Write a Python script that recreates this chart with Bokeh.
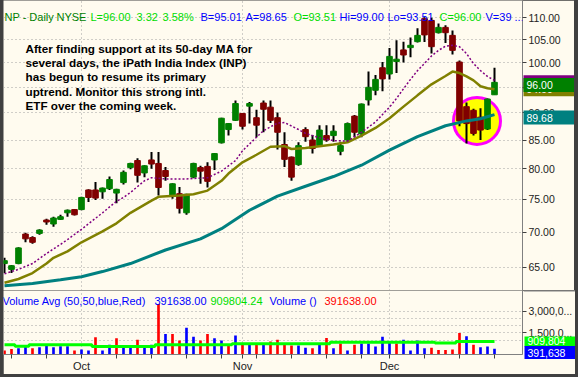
import math
from bokeh.plotting import figure
from bokeh.models import Range1d, FixedTicker, PrintfTickFormatter, Label
from bokeh.layouts import column, row
from bokeh.core.properties import value
from bokeh.embed import file_html
from bokeh.resources import INLINE

# ---------------- data ----------------
opens = [65.5, 64.7, 65.5, 69.7, 69.2, 69.8, 71.8, 71.2, 71.9, 72.9, 73.4,
         73.4, 76.5, 76.5, 76.2, 76.7, 76.0, 77.7, 80.2, 81.4, 79.3, 81.5,
         80.9, 79.7, 75.7, 75.9, 72.9, 78.6, 80.2, 80.4, 81.5, 84.5, 86.9,
         88.6, 89.9, 91.3, 89.1, 91.9, 91.1, 89.1, 84.2, 82.0, 80.7, 86.9,
         85.0, 84.0, 85.8, 85.8, 83.0, 85.0, 89.4, 86.1, 92.5, 94.4, 99.0,
         97.7, 100.3, 102.8, 103.3, 104.6, 109.8, 109.4, 106.6, 107.8, 106.0,
         100.2, 91.2, 90.5, 89.2, 87.0, 93.51]
highs = [66.3, 65.3, 67.8, 69.9, 69.4, 70.4, 72.0, 72.3, 72.6, 73.4, 73.5,
         75.4, 76.6, 77.8, 76.9, 78.7, 76.7, 79.7, 81.0, 81.8, 80.6, 82.9,
         82.9, 80.3, 77.6, 77.0, 75.9, 81.0, 80.5, 81.1, 82.7, 89.1, 88.1,
         92.4, 90.0, 92.1, 90.6, 92.4, 92.4, 90.1, 86.4, 82.1, 84.6, 87.3,
         85.9, 87.7, 87.7, 87.7, 84.7, 88.2, 89.6, 91.8, 98.2, 97.5, 100.2,
         103.2, 104.9, 104.6, 105.5, 107.6, 110.1, 110.0, 108.7, 108.3, 107.1,
         100.5, 92.0, 90.8, 90.9, 92.8, 99.0]
lows = [64.2, 64.2, 65.4, 68.5, 68.3, 69.6, 71.1, 70.8, 71.8, 72.3, 72.5,
        73.3, 74.6, 74.9, 75.1, 76.5, 74.4, 77.4, 79.9, 77.7, 78.6, 80.0,
        75.6, 78.0, 75.1, 72.8, 72.6, 78.4, 77.5, 76.9, 79.8, 84.4, 85.8,
        88.5, 86.9, 88.0, 85.5, 86.4, 88.1, 83.3, 80.3, 78.0, 80.5, 84.7,
        82.6, 83.8, 84.7, 84.7, 82.3, 84.6, 85.5, 85.5, 91.4, 93.4, 94.2,
        96.6, 97.9, 100.1, 101.2, 104.4, 104.5, 102.0, 106.4, 104.3, 101.8,
        87.5, 84.4, 85.8, 85.0, 86.8, 93.51]
closes = [65.9, 65.2, 67.7, 69.0, 68.5, 70.3, 71.5, 72.1, 72.3, 73.3, 72.6,
          75.3, 75.3, 75.2, 76.8, 78.2, 76.6, 79.4, 80.9, 78.9, 80.5, 80.8,
          76.9, 78.7, 77.5, 73.6, 75.8, 80.9, 79.6, 77.9, 82.6, 89.0, 88.0,
          91.8, 87.5, 91.8, 87.7, 90.7, 88.6, 86.4, 81.6, 78.6, 84.0, 85.6,
          83.5, 86.8, 85.0, 86.6, 84.0, 88.0, 86.4, 91.7, 95.0, 96.6, 96.7,
          101.4, 100.8, 101.7, 103.8, 106.0, 106.1, 103.5, 107.8, 106.6, 102.7,
          88.5, 88.0, 86.2, 86.8, 92.68, 96.0]

volumes = [270000, 390000, 430000, 570000, 430000, 500000, 690000, 500000,
           570000, 570000, 270000, 340000, 270000, 1190000, 270000, 670000,
           1130000, 550000, 550000, 1030000, 500000, 670000, 3510000, 1430000,
           1430000, 970000, 1850000, 1240000, 970000, 1430000, 1130000, 970000,
           670000, 1310000, 670000, 800000, 800000, 740000, 900000, 1030000,
           670000, 620000, 620000, 460000, 430000, 800000, 1150000, 430000,
           760000, 270000, 670000, 760000, 760000, 550000, 1240000, 850000,
           760000, 1030000, 270000, 970000, 430000, 460000, 320000, 320000,
           340000, 1500000, 1260000, 670000, 500000, 550000, 391638]
vol_up = [0, 0, 1, 1, 0, 1, 1, 1, 1, 1, 0, 1, 1, 0, 1, 1, 0, 1, 1, 0, 1, 1,
          0, 1, 0, 0, 1, 1, 0, 0, 1, 1, 0, 1, 0, 1, 0, 1, 0, 0, 0, 0, 1, 1,
          0, 1, 0, 1, 0, 1, 0, 1, 1, 1, 1, 1, 0, 1, 1, 1, 1, 0, 0, 0, 0, 0,
          1, 0, 1, 1, 1]
vol_avg = [670000, 670000, 570000, 570000, 670000, 670000, 670000, 670000,
           670000, 670000, 670000, 670000, 670000, 550000, 550000, 550000,
           550000, 550000, 550000, 550000, 550000, 550000, 670000, 670000,
           670000, 670000, 670000, 670000, 670000, 670000, 670000, 670000,
           670000, 740000, 740000, 740000, 740000, 740000, 740000, 740000,
           740000, 740000, 740000, 740000, 740000, 740000, 740000, 850000,
           850000, 850000, 850000, 850000, 850000, 850000, 850000, 850000,
           850000, 850000, 850000, 850000, 850000, 850000, 800000, 800000,
           800000, 909804, 909804, 909804, 909804, 909804, 909804]

ma10_idx = [0, 2, 4, 6, 8, 9, 11, 14, 16, 17, 18, 20, 21, 23, 26, 29, 31, 33,
            34, 36, 37, 39, 40, 42, 43, 45, 47, 49, 51, 53, 54, 55, 56, 57,
            58, 59, 60, 61, 62, 63, 64, 65, 66, 67, 68, 69, 70]
ma10_val = [64.1, 64.7, 65.5, 66.9, 68.2, 68.9, 70.4, 72.9, 74.7, 75.3, 76.1,
            78.0, 78.5, 78.3, 78.3, 78.5, 79.6, 81.4, 83.1, 85.5, 86.7, 88.1,
            88.2, 86.9, 86.2, 85.4, 84.9, 84.8, 86.4, 88.3, 89.7, 91.1, 92.8,
            94.7, 96.6, 98.4, 99.9, 101.5, 102.7, 103.6, 103.8, 103.5, 102.0,
            99.9, 98.4, 97.2, 96.4]
ma20_idx = [0, 2, 4, 6, 7, 9, 11, 14, 16, 18, 21, 22, 25, 27, 29, 31, 32, 34,
            36, 38, 40, 41, 43, 45, 47, 49, 51, 53, 55, 57, 59, 61, 63, 64, 65,
            66, 67, 68, 69, 70]
ma20_val = [62.9, 63.4, 64.2, 65.5, 66.3, 67.2, 68.5, 70.1, 71.3, 72.9, 74.8,
            75.4, 75.6, 75.8, 76.4, 78.0, 79.2, 81.1, 82.4, 83.8, 83.9, 83.4,
            83.6, 83.9, 84.2, 84.6, 85.8, 87.2, 89.0, 91.2, 93.4, 95.6, 97.3,
            98.2, 97.9, 97.2, 96.4, 95.2, 94.8, 94.6]
ma50_idx = [0, 4, 8, 11, 14, 18, 23, 28, 31, 35, 39, 43, 47, 51, 55, 59, 63,
            66, 68, 70]
ma50_val = [62.5, 62.8, 63.3, 63.7, 64.4, 65.5, 67.4, 69.0, 70.5, 73.3, 75.5,
            77.1, 78.7, 80.6, 83.2, 85.6, 87.6, 88.5, 88.9, 89.68]

price_ticks = [65, 70, 75, 80, 85, 90, 95, 100, 105, 110]
vol_ticks = [1500000, 3000000]
vol_tick_labels = ["1,500,0...", "3,000,0..."]
vol_grid = [1000000, 1500000, 2000000, 2500000, 3000000]
week_ticks = [1, 6, 11, 16, 21, 26, 31, 34, 36, 41, 46, 51, 55, 60, 65, 70]
month_ticks = [11, 34, 55]
month_labels = ["Oct", "Nov", "Dec"]

header_texts = ["NP - Daily", "NYSE", "L=96.00", "3.32", "3.58%", "B=95.01",
                "A=98.65", "O=93.51", "Hi=99.00", "Lo=93.51", "C=96.00", "V=39 ..."]
header_x = [4, 56, 90, 136, 162, 200, 245, 293, 339, 387, 439, 485]
note_lines = ["After finding support at its 50-day MA for",
              "several days, the iPath India Index (INP)",
              "has begun to resume its primary",
              "uptrend.  Monitor this strong intl.",
              "ETF over the coming week."]
vol_legend = ["Volume Avg (50,50,blue,Red)", "391638.00", "909804.24", "Volume ()", "391638.00"]
vol_legend_x = [2, 154, 210, 269, 324]

# ---------------- style ----------------
BG = "#fffbef"
DARK = "#404040"
FONT = "Liberation Sans"
UP = "#008000"
DOWN = "#800000"
DKGREEN = "#008000"
LIME = "#00dd00"
BLUE = "#0000ff"
RED = "#ff0000"
header_colors = [DKGREEN, DKGREEN, LIME, LIME, LIME, BLUE, BLUE, LIME, BLUE, BLUE, LIME, BLUE]
vol_legend_colors = [BLUE, BLUE, LIME, BLUE, RED]

FW = 519          # plot frame width
AXW = 52          # right axis strip width
FH_MAIN = 290
FH_VOL = 64
XAX_H = 18        # height of the date axis strip
PMIN, PMAX = 61.88, 114.09
VMAX = 4440000

n = len(closes)
idx = list(range(n))
body_top = [max(o, c) for o, c in zip(opens, closes)]
body_bot = [min(o, c) for o, c in zip(opens, closes)]
body_col = [UP if c >= o else DOWN for o, c in zip(opens, closes)]
vol_col = [BLUE if u else RED for u in vol_up]

xr = Range1d(-0.143, 74.0)


def shift_down(v, px):
    # price that sits px pixels below v on the log price scale
    return v * math.exp(-px * (math.log(PMAX) - math.log(PMIN)) / FH_MAIN)


# ---------------- main price panel ----------------
p = figure(frame_width=FW, frame_height=FH_MAIN, x_range=xr,
           y_range=Range1d(PMIN, PMAX), y_axis_type="log",
           y_axis_location="right", x_axis_location=None,
           output_backend="svg", toolbar_location=None,
           min_border_left=0, min_border_right=AXW, min_border_top=0,
           min_border_bottom=0, background_fill_color=BG,
           border_fill_color=BG, outline_line_color=None)

p.xgrid.ticker = FixedTicker(ticks=month_ticks)
p.ygrid.ticker = FixedTicker(ticks=price_ticks)
p.grid.grid_line_color = "#a0a0a0"
p.grid.grid_line_dash = "1 3"
p.grid.grid_line_width = 1

ax = p.yaxis[0]
ax.ticker = FixedTicker(ticks=price_ticks)
ax.formatter = PrintfTickFormatter(format="%.2f")
ax.axis_line_color = "#808080"
ax.major_tick_line_color = "#404040"
ax.major_tick_out = 4
ax.major_tick_in = 0
ax.minor_tick_out = 0
ax.minor_tick_in = 0
ax.major_label_standoff = 2
ax.major_label_text_font = FONT
ax.major_label_text_font_size = "10.5px"
ax.major_label_text_color = "#222222"

# highlight circle around the last few bars (from the data range of bars 66-69)
hx = (idx[66] + idx[69]) / 2
hy = math.sqrt(min(lows[66:70]) * max(highs[66:70]))
p.scatter(x=[hx], y=[hy], size=47, marker="circle", fill_color="#ffff00",
          line_color="#ff00ff", line_width=3)

# candles
p.segment(x0=idx, y0=lows, x1=idx, y1=highs, line_color="black", line_width=2)
p.vbar(x=idx, width=0.8, top=body_top, bottom=body_bot, fill_color=body_col,
       line_color=body_col, line_width=1)

# moving averages
p.line(ma50_idx, ma50_val, line_color="#008080", line_width=3)
p.line(ma20_idx, ma20_val, line_color="#808000", line_width=2.5)
p.line(ma10_idx, ma10_val, line_color="#800080", line_width=1.5, line_dash="2 2")

# header
for t, x, c in zip(header_texts, header_x, header_colors):
    p.add_layout(Label(x=x - 3, y=FH_MAIN - 16, x_units="screen", y_units="screen",
                       text=t, text_color=c, text_font=FONT, text_font_size="11px",
                       text_baseline="alphabetic", text_align="left"))
# note
for k, t in enumerate(note_lines):
    p.add_layout(Label(x=25 - 3, y=FH_MAIN - (47.7 + 14.3 * k), x_units="screen",
                       y_units="screen", text=t, text_color="#000000",
                       text_font=FONT, text_font_size="11.7px", text_font_style="bold",
                       text_baseline="alphabetic", text_align="left"))

# overlay strip on the price axis with the last-value boxes
q = figure(frame_width=AXW, frame_height=FH_MAIN, x_range=Range1d(0, AXW),
           y_range=p.y_range, y_axis_type="log", x_axis_location=None,
           y_axis_location=None, output_backend="svg", toolbar_location=None,
           min_border=0, background_fill_alpha=0, border_fill_alpha=0,
           outline_line_color=None)
q.grid.visible = False
q.margin = (0, 0, 0, -AXW)

box_vals = [ma10_val[-1], ma20_val[-1], closes[-1], ma50_val[-1]]
box_shift_px = [2, 0, 2.7, 3]
box_cols = ["#800080", "#808000", "#008000", "#008080"]
for v, s, c in zip(box_vals, box_shift_px, box_cols):
    yv = shift_down(v, s)
    q.rect(x=[AXW / 2 + 0.5], y=[yv], width=AXW - 1, height=14, height_units="screen",
           fill_color=c, line_color=None)
    q.text(x=[4], y=[yv], text=["%.2f" % v], text_color="white",
           text_font=value(FONT), text_font_size="10.5px", text_baseline="middle",
           text_align="left")

# ---------------- volume panel ----------------
pv = figure(frame_width=FW, frame_height=FH_VOL, x_range=xr,
            y_range=Range1d(0, VMAX), y_axis_location="right",
            output_backend="svg", toolbar_location=None,
            min_border_left=0, min_border_right=AXW, min_border_top=0,
            min_border_bottom=0, background_fill_color=BG,
            border_fill_color=BG, outline_line_color=None)

pv.xgrid.ticker = FixedTicker(ticks=month_ticks)
pv.ygrid.ticker = FixedTicker(ticks=vol_grid)
pv.grid.grid_line_color = "#a0a0a0"
pv.grid.grid_line_dash = "1 3"

pv.vbar(x=idx, width=0.38, top=volumes, bottom=0, fill_color=vol_col, line_color=None)
pv.step(x=idx, y=vol_avg, mode="center", line_color="#00ff00", line_width=3)

vy = pv.yaxis[0]
vy.ticker = FixedTicker(ticks=vol_ticks)
vy.major_label_overrides = {t: s for t, s in zip(vol_ticks, vol_tick_labels)}
vy.axis_line_color = "#808080"
vy.major_tick_line_color = "#404040"
vy.major_tick_out = 4
vy.major_tick_in = 0
vy.minor_tick_out = 0
vy.minor_tick_in = 0
vy.major_label_standoff = 2
vy.major_label_text_font = FONT
vy.major_label_text_font_size = "10.5px"
vy.major_label_text_color = "#222222"

vx = pv.xaxis[0]
vx.ticker = FixedTicker(ticks=week_ticks)
overrides = {t: "" for t in week_ticks}
for t, s in zip(month_ticks, month_labels):
    overrides[t] = s
vx.major_label_overrides = overrides
vx.axis_line_color = "#808080"
vx.major_tick_line_color = "#404040"
vx.major_tick_out = 4
vx.major_tick_in = 0
vx.minor_tick_out = 0
vx.minor_tick_in = 0
vx.major_label_standoff = 1
vx.major_label_text_font = FONT
vx.major_label_text_font_size = "11px"
vx.major_label_text_color = "#222222"

for t, x, c in zip(vol_legend, vol_legend_x, vol_legend_colors):
    pv.add_layout(Label(x=x - 3, y=FH_VOL - 10, x_units="screen", y_units="screen",
                        text=t, text_color=c, text_font=FONT, text_font_size="11px",
                        text_baseline="alphabetic", text_align="left"))

# overlay strip on the volume axis
vpx = VMAX / FH_VOL   # volume units per pixel
qv = figure(frame_width=AXW, frame_height=FH_VOL + XAX_H, x_range=Range1d(0, AXW),
            y_range=Range1d(-XAX_H * vpx, VMAX), x_axis_location=None,
            y_axis_location=None, output_backend="svg", toolbar_location=None,
            min_border=0, background_fill_alpha=0, border_fill_alpha=0,
            outline_line_color=None)
qv.grid.visible = False
qv.margin = (0, 0, 0, -AXW)
qv.segment(x0=[0], y0=[VMAX], x1=[AXW], y1=[VMAX], line_color="#808080", line_width=2)

vbox_vals = [vol_avg[-1], volumes[-1]]
vbox_shift = [0, -3.7 * vpx]
vbox_h = [10, 13]
vbox_cols = ["#00ff00", "#0000ff"]
for v, s, h, c in zip(vbox_vals, vbox_shift, vbox_h, vbox_cols):
    qv.rect(x=[AXW / 2 + 0.5], y=[v + s], width=AXW - 1, height=h, height_units="screen",
            fill_color=c, line_color=None)
    qv.text(x=[4], y=[v + s], text=["{:,}".format(v)], text_color="white",
            text_font=value(FONT), text_font_size="10.5px", text_baseline="middle",
            text_align="left")

layout = column(row(p, q), row(pv, qv),
                styles={"background-color": DARK, "padding": "0px 4px 5px 3px"})

open("out.html", "w").write(file_html(layout, INLINE))
